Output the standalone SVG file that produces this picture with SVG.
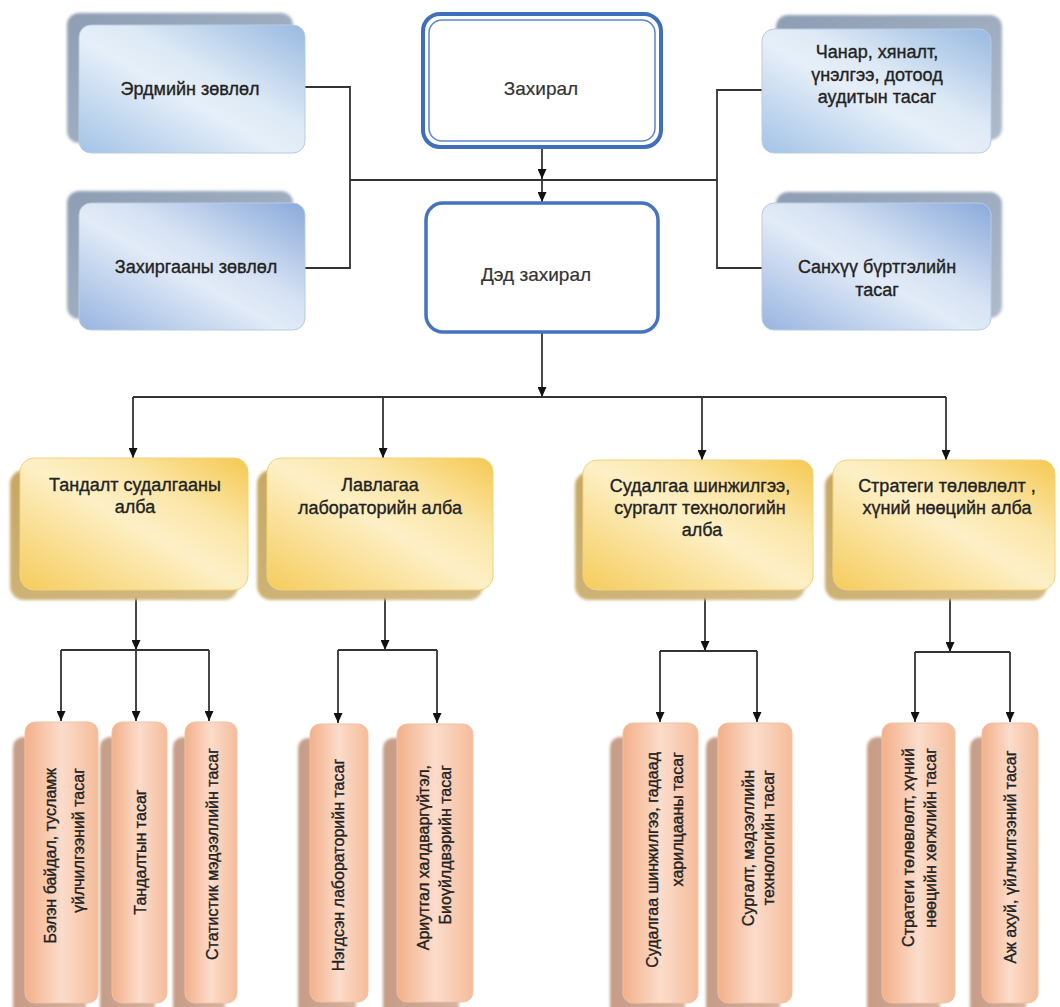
<svg xmlns="http://www.w3.org/2000/svg" width="1060" height="1007" viewBox="0 0 1060 1007">
<defs>
<linearGradient id="gBlue" x1="0" y1="1" x2="1" y2="0">
<stop offset="0" stop-color="#a3c3e6"/><stop offset="0.45" stop-color="#e6eff8"/><stop offset="0.6" stop-color="#dde9f5"/><stop offset="1" stop-color="#98b9e0"/>
</linearGradient>
<linearGradient id="gBlue2" x1="0" y1="1" x2="1" y2="0">
<stop offset="0" stop-color="#98b4e0"/><stop offset="0.45" stop-color="#e2ebf7"/><stop offset="0.6" stop-color="#d6e2f3"/><stop offset="1" stop-color="#8aa9da"/>
</linearGradient>
<linearGradient id="gBlueSh" x1="0" y1="0" x2="1" y2="1">
<stop offset="0" stop-color="#8e9db2"/><stop offset="1" stop-color="#aebbcc"/>
</linearGradient>
<linearGradient id="gYel" x1="0" y1="1" x2="1" y2="0">
<stop offset="0" stop-color="#f5cc5c"/><stop offset="0.5" stop-color="#fdf0c6"/><stop offset="0.7" stop-color="#fbe6a8"/><stop offset="1" stop-color="#f5c850"/>
</linearGradient>
<linearGradient id="gYelSh" x1="0" y1="0" x2="1" y2="1">
<stop offset="0" stop-color="#c6a862"/><stop offset="1" stop-color="#d2bb86"/>
</linearGradient>
<linearGradient id="gOr" x1="0" y1="0" x2="1" y2="0">
<stop offset="0" stop-color="#f2b089"/><stop offset="0.5" stop-color="#fcdccb"/><stop offset="1" stop-color="#f4bc9a"/>
</linearGradient>
<linearGradient id="gOrSh" x1="0" y1="0" x2="1" y2="0">
<stop offset="0" stop-color="#c59b86"/><stop offset="1" stop-color="#d6b3a0"/>
</linearGradient>
<filter id="soft" x="-10%" y="-10%" width="120%" height="120%">
<feGaussianBlur stdDeviation="1.6"/>
</filter>
<marker id="arr" markerUnits="userSpaceOnUse" markerWidth="10" markerHeight="9" refX="10" refY="4.5" orient="auto">
<path d="M0,0 L10,4.5 L0,9 z" fill="#111"/>
</marker>
</defs>
<style>
text{font-family:"Liberation Sans",Arial,sans-serif;fill:#222;stroke:#222;stroke-width:0.35;}
.t18{font-size:18px;text-anchor:middle;}
.t19{font-size:19px;text-anchor:middle;fill:#333;stroke:#333;stroke-width:0.2;}
.t16{font-size:16px;}
.bsh{fill:url(#gBlueSh);filter:url(#soft);}
.bfr{fill:url(#gBlue);stroke:#b8cce3;stroke-width:1;}
.bfr2{fill:url(#gBlue2);stroke:#b8cce3;stroke-width:1;}
.ysh{fill:url(#gYelSh);filter:url(#soft);}
.yfr{fill:url(#gYel);stroke:#f2d27e;stroke-width:1;}
.osh{fill:url(#gOrSh);filter:url(#soft);}
.ofr{fill:url(#gOr);stroke:#f0c2a6;stroke-width:1;}
.ln{fill:none;stroke:#333;stroke-width:1.8;}
.ar{fill:none;stroke:#333;stroke-width:1.8;marker-end:url(#arr);}
</style>
<rect width="1060" height="1007" fill="#ffffff"/>

<g id="connectors">
<polyline class="ln" points="305,87 350,87 350,268 305,268"/>
<line class="ln" x1="350" y1="180" x2="717" y2="180"/>
<polyline class="ln" points="762,90 717,90 717,268 762,268"/>
<line class="ar" x1="542" y1="148" x2="542" y2="179"/>
<line class="ar" x1="542" y1="180" x2="542" y2="202"/>
<line class="ar" x1="542" y1="332" x2="542" y2="397"/>
<line class="ln" x1="133" y1="397" x2="946" y2="397"/>
<line class="ar" x1="133" y1="397" x2="133" y2="458"/>
<line class="ar" x1="383" y1="397" x2="383" y2="458"/>
<line class="ar" x1="702" y1="397" x2="702" y2="460"/>
<line class="ar" x1="946" y1="397" x2="946" y2="460"/>
<line class="ar" x1="136" y1="590" x2="136" y2="650"/>
<line class="ln" x1="61" y1="650" x2="209" y2="650"/>
<line class="ar" x1="61" y1="650" x2="61" y2="721"/>
<line class="ar" x1="136" y1="650" x2="136" y2="721"/>
<line class="ar" x1="209" y1="650" x2="209" y2="721"/>
<line class="ar" x1="385" y1="590" x2="385" y2="650"/>
<line class="ln" x1="338" y1="650" x2="437" y2="650"/>
<line class="ar" x1="338" y1="650" x2="338" y2="723"/>
<line class="ar" x1="437" y1="650" x2="437" y2="723"/>
<line class="ar" x1="705" y1="590" x2="705" y2="651"/>
<line class="ln" x1="660" y1="651" x2="757" y2="651"/>
<line class="ar" x1="660" y1="651" x2="660" y2="722"/>
<line class="ar" x1="757" y1="651" x2="757" y2="722"/>
<line class="ar" x1="950" y1="590" x2="950" y2="652"/>
<line class="ln" x1="915" y1="652" x2="1010" y2="652"/>
<line class="ar" x1="915" y1="652" x2="915" y2="722"/>
<line class="ar" x1="1010" y1="652" x2="1010" y2="722"/>
</g>

<g id="n-erdmiin">
<rect class="bsh" x="67" y="13" width="226" height="130" rx="12"/>
<rect class="bfr" x="79" y="25" width="226" height="128" rx="12"/>
<text class="t18" x="190" y="95">Эрдмийн зөвлөл</text>
</g>
<g id="n-zakhirgaany">
<rect class="bsh" x="67" y="191" width="226" height="128" rx="12"/>
<rect class="bfr2" x="79" y="203" width="226" height="127" rx="12"/>
<text class="t18" x="196" y="273">Захиргааны зөвлөл</text>
</g>
<g id="n-zakhiral">
<rect x="423" y="14" width="238" height="133" rx="17" fill="#fff" stroke="#3f6fba" stroke-width="4"/>
<rect x="429" y="20" width="226" height="121" rx="13" fill="none" stroke="#5b86c8" stroke-width="1.5"/>
<text class="t19" x="541" y="95">Захирал</text>
</g>
<g id="n-ded-zakhiral">
<rect x="426" y="203" width="232" height="129" rx="17" fill="#fff" stroke="#4573bd" stroke-width="3.5"/>
<text class="t19" x="536" y="281">Дэд захирал</text>
</g>
<g id="n-chanar">
<rect class="bsh" x="776" y="15" width="226" height="125" rx="12"/>
<rect class="bfr" x="762" y="29" width="229" height="124" rx="12"/>
<text class="t18" x="877" y="58">Чанар, хяналт,</text>
<text class="t18" x="877" y="81">үнэлгээ, дотоод</text>
<text class="t18" x="877" y="103">аудитын тасаг</text>
</g>
<g id="n-sankhuu">
<rect class="bsh" x="776" y="192" width="226" height="126" rx="12"/>
<rect class="bfr2" x="762" y="203" width="229" height="127" rx="12"/>
<text class="t18" x="877" y="273">Санхүү бүртгэлийн</text>
<text class="t18" x="877" y="296">тасаг</text>
</g>

<g id="n-tandalt-alba">
<rect class="ysh" x="10" y="470" width="228" height="130" rx="14"/>
<rect class="yfr" x="20" y="458" width="228" height="132" rx="14"/>
<text class="t18" x="135" y="491">Тандалт судалгааны</text>
<text class="t18" x="135" y="513">алба</text>
</g>
<g id="n-lavlagaa-alba">
<rect class="ysh" x="257" y="470" width="226" height="130" rx="14"/>
<rect class="yfr" x="267" y="458" width="226" height="132" rx="14"/>
<text class="t18" x="380" y="491">Лавлагаа</text>
<text class="t18" x="380" y="514">лабораторийн алба</text>
</g>
<g id="n-sudalgaa-alba">
<rect class="ysh" x="575" y="472" width="230" height="128" rx="14"/>
<rect class="yfr" x="583" y="460" width="230" height="130" rx="14"/>
<text class="t18" x="700" y="492">Судалгаа шинжилгээ,</text>
<text class="t18" x="700" y="514">сургалт технологийн</text>
<text class="t18" x="702" y="536">алба</text>
</g>
<g id="n-strategi-alba">
<rect class="ysh" x="825" y="472" width="222" height="128" rx="14"/>
<rect class="yfr" x="833" y="460" width="222" height="130" rx="14"/>
<text class="t18" x="947" y="492">Стратеги төлөвлөлт ,</text>
<text class="t18" x="947" y="514">хүний нөөцийн алба</text>
</g>

<g id="n-belen">
<rect class="osh" x="13" y="737" width="73" height="280" rx="10"/>
<rect class="ofr" x="25" y="722" width="73" height="281" rx="10"/>
<text class="t16" text-anchor="end" transform="translate(55.5,768) rotate(-90)">Бэлэн байдал, тусламж</text>
<text class="t16" text-anchor="end" transform="translate(83.5,768) rotate(-90)">үйлчилгээний тасаг</text>
</g>
<g id="n-tandaltyn">
<rect class="osh" x="100" y="737" width="55" height="280" rx="10"/>
<rect class="ofr" x="112" y="722" width="55" height="281" rx="10"/>
<text class="t16" text-anchor="middle" transform="translate(145.5,852) rotate(-90)">Тандалтын тасаг</text>
</g>
<g id="n-statistik">
<rect class="osh" x="173" y="737" width="52" height="280" rx="10"/>
<rect class="ofr" x="185" y="722" width="52" height="281" rx="10"/>
<text class="t16" text-anchor="middle" transform="translate(217.5,854) rotate(-90)">Статистик мэдээллийн тасаг</text>
</g>
<g id="n-negdsen">
<rect class="osh" x="298" y="738" width="58" height="280" rx="10"/>
<rect class="ofr" x="310" y="724" width="58" height="278" rx="10"/>
<text class="t16" text-anchor="middle" transform="translate(343.5,865) rotate(-90)">Нэгдсэн лабораторийн тасаг</text>
</g>
<g id="n-ariutgal">
<rect class="osh" x="383" y="738" width="76" height="280" rx="10"/>
<rect class="ofr" x="397" y="724" width="76" height="278" rx="10"/>
<text class="t16" text-anchor="end" transform="translate(428.5,765) rotate(-90)">Ариутгал халдваргүйтэл,</text>
<text class="t16" text-anchor="end" transform="translate(450.5,765) rotate(-90)">Биоүйлдвэрийн тасаг</text>
</g>
<g id="n-sudalgaa-gadaad">
<rect class="osh" x="610" y="737" width="75" height="280" rx="10"/>
<rect class="ofr" x="623" y="723" width="75" height="280" rx="10"/>
<text class="t16" text-anchor="end" transform="translate(657.5,752) rotate(-90)">Судалгаа шинжилгээ, гадаад</text>
<text class="t16" text-anchor="end" transform="translate(682.5,752) rotate(-90)">харилцааны тасаг</text>
</g>
<g id="n-surgalt">
<rect class="osh" x="706" y="737" width="74" height="280" rx="10"/>
<rect class="ofr" x="718" y="723" width="74" height="280" rx="10"/>
<text class="t16" text-anchor="end" transform="translate(753.5,770) rotate(-90)">Сургалт, мэдээллийн</text>
<text class="t16" text-anchor="end" transform="translate(773.5,770) rotate(-90)">технологийн тасаг</text>
</g>
<g id="n-strategi-tasag">
<rect class="osh" x="867" y="737" width="73" height="280" rx="10"/>
<rect class="ofr" x="882" y="723" width="73" height="280" rx="10"/>
<text class="t16" text-anchor="end" transform="translate(913.5,748) rotate(-90)">Стратеги  төлөвлөлт, хүний</text>
<text class="t16" text-anchor="end" transform="translate(935.5,748) rotate(-90)">нөөцийн хөгжлийн тасаг</text>
</g>
<g id="n-azh-akhui">
<rect class="osh" x="970" y="737" width="56" height="280" rx="10"/>
<rect class="ofr" x="982" y="723" width="56" height="280" rx="10"/>
<text class="t16" text-anchor="middle" transform="translate(1015.5,857) rotate(-90)">Аж ахуй, үйлчилгээний тасаг</text>
</g>
</svg>
